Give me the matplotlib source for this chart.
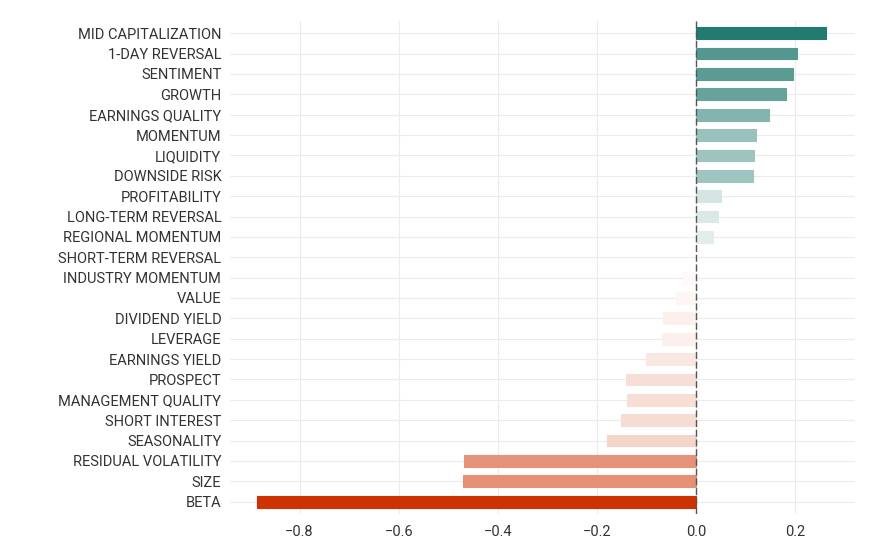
import matplotlib
matplotlib.use("Agg")
import matplotlib.pyplot as plt
import numpy as np
from matplotlib.colors import LinearSegmentedColormap, TwoSlopeNorm

plt.rcParams["font.family"] = ["Roboto", "DejaVu Sans"]

# factor exposures, top to bottom
faktoren = [
    "MID CAPITALIZATION", "1-DAY REVERSAL", "SENTIMENT", "GROWTH",
    "EARNINGS QUALITY", "MOMENTUM", "LIQUIDITY", "DOWNSIDE RISK",
    "PROFITABILITY", "LONG-TERM REVERSAL", "REGIONAL MOMENTUM",
    "SHORT-TERM REVERSAL", "INDUSTRY MOMENTUM", "VALUE", "DIVIDEND YIELD",
    "LEVERAGE", "EARNINGS YIELD", "PROSPECT", "MANAGEMENT QUALITY",
    "SHORT INTEREST", "SEASONALITY", "RESIDUAL VOLATILITY", "SIZE", "BETA",
]
werte = [
    0.263, 0.204, 0.196, 0.182,
    0.147, 0.121, 0.117, 0.115,
    0.050, 0.044, 0.034,
    0.001, -0.026, -0.040, -0.067,
    -0.069, -0.101, -0.141, -0.140,
    -0.151, -0.180, -0.468, -0.471, -0.885,
]
xticks = [-0.8, -0.6, -0.4, -0.2, 0.0, 0.2]

werte = np.array(werte)
y = np.arange(len(faktoren))

cmap = LinearSegmentedColormap.from_list(
    "div", ["#cc3300", "#ffffff", "#237a6e"])
norm = TwoSlopeNorm(vmin=werte.min(), vcenter=0.0, vmax=werte.max())
farben = cmap(norm(werte))

fig = plt.figure(figsize=(8.7, 5.52), dpi=100)
ax = fig.add_axes([0.264, 0.069, 0.719, 0.893])

ax.barh(y, werte, height=0.58, color=farben, edgecolor=farben,
        linewidth=0.8, zorder=2)
ax.axvline(0, color="#555555", lw=1.0, ls=(0, (5, 2)), zorder=3)

ax.set_yticks(y)
ax.set_yticklabels(faktoren)
ax.set_xticks(xticks)
ax.set_xticklabels([f"{t:.1f}".replace("-", "\u2212") for t in xticks])
ax.set_ylim(len(faktoren) - 0.4, -0.6)
ax.set_xlim(-0.941, 0.321)

ax.grid(True, color="#ececec", lw=0.8, zorder=0)
ax.set_axisbelow(True)
for s in ax.spines.values():
    s.set_visible(False)
ax.tick_params(length=0, labelsize=10.5, labelcolor="#333333", pad=6)
ax.tick_params(axis="x", pad=8)

fig.savefig("out.png", dpi=100)
